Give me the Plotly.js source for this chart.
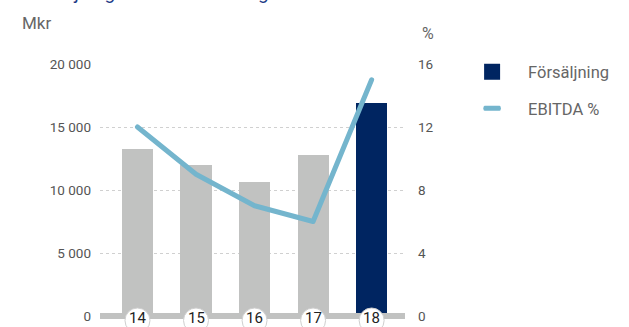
<!DOCTYPE html>
<html><head><meta charset="utf-8">
<script src="https://cdn.plot.ly/plotly-3.0.1.min.js"></script>
<style>
html,body{margin:0;padding:0;background:#fff}
.scatterlayer path.js-line{stroke-linecap:round;stroke-linejoin:round}
.legend .legendlines path{stroke-linecap:round;transform:translateX(20px) scaleX(0.5) translateX(-20px)}
.legend text.legendtext{transform:translateX(16px)}
.legend g.scrollbox{clip-path:none !important}
</style></head>
<body>
<div id="chart" style="width:629px;height:327px"></div>
<script>
const years = ['14', '15', '16', '17', '18'];
const sales = [13250, 12000, 10650, 12800, 16900];
const ebitdaPct = [12, 9, 7, 6, 15];
const leftTickVals = [0, 5000, 10000, 15000, 20000];
const leftTickText = ['0', '5 000', '10 000', '15 000', '20 000'];
const rightTickVals = [0, 4, 8, 12, 16];
const seriesNames = ['Försäljning', 'EBITDA %'];
const titleText = 'Försäljning och EBITDA-marginal';

const grey = '#c1c2c1', navy = '#002561', teal = '#74b5cd';
const xRange = [-0.64, 4.57];
const yRange = [-873, 20000];
const y2Range = [yRange[0] / 20000 * 16, 16];
const font = 'Roboto, "Noto Sans", sans-serif';

const barColors = years.map((y, i) => i === years.length - 1 ? navy : grey);

const traces = [
  {type: 'bar', x: years, y: sales, marker: {color: barColors}, width: 0.53,
   showlegend: false, hoverinfo: 'skip'},
  {type: 'scatter', mode: 'markers', x: [null], y: [null], name: seriesNames[0],
   marker: {symbol: 'square', size: 20, color: navy}, legendgroup: 'a'},
  {type: 'scatter', mode: 'lines', x: years, y: ebitdaPct, yaxis: 'y2', name: seriesNames[1],
   line: {color: teal, width: 5}, legendgroup: 'b', hoverinfo: 'skip'}
];

const shapes = [{type: 'line', xref: 'x', yref: 'y', x0: xRange[0], x1: xRange[1], y0: 0, y1: 0,
  line: {color: grey, width: 6}, layer: 'above'}];
const annotations = [];
years.forEach((y, i) => {
  shapes.push({type: 'circle', xref: 'x', yref: 'y', xsizemode: 'pixel', ysizemode: 'pixel',
    xanchor: i, yanchor: 0, x0: -12.5, x1: 12.5, y0: -17, y1: 8,
    fillcolor: '#fff', line: {color: '#cfcfcf', width: 1}, layer: 'above'});
  annotations.push({x: i, y: 0, xref: 'x', yref: 'y', yshift: -1.5, text: y, showarrow: false,
    font: {family: font, size: 15, color: '#222'}});
});
annotations.push({xref: 'paper', yref: 'paper', x: -80/305, y: 1, yshift: 41, xanchor: 'left', yanchor: 'middle',
  text: 'Mkr', showarrow: false, font: {family: font, size: 17, color: '#666'}});
annotations.push({xref: 'paper', yref: 'paper', x: 1.05, y: 1, yshift: 31, xanchor: 'left', yanchor: 'middle',
  text: '%', showarrow: false, font: {family: font, size: 16, color: '#666'}});
annotations.push({xref: 'paper', yref: 'paper', x: -80/305, y: 1, yshift: 58, xanchor: 'left', yanchor: 'bottom',
  text: titleText, showarrow: false, font: {family: font, size: 19, color: '#1d3b87'}});

const layout = {
  width: 629, height: 327,
  margin: {l: 100, r: 224, t: 64, b: 0},
  paper_bgcolor: '#fff', plot_bgcolor: '#fff',
  bargap: 0,
  xaxis: {type: 'category', range: xRange, showticklabels: false, showgrid: false, zeroline: false,
    showline: false, ticks: ''},
  yaxis: {range: yRange, tickvals: leftTickVals, ticktext: leftTickText, showgrid: true,
    gridcolor: '#d0d0d0', griddash: 'dot', gridwidth: 1, zeroline: false, showline: false, ticks: '',
    ticklabelstandoff: 8, tickfont: {family: font, size: 13.5, color: '#555'}},
  yaxis2: {range: y2Range, tickvals: rightTickVals, overlaying: 'y', side: 'right', showgrid: false,
    zeroline: false, showline: false, ticks: '', ticklabelstandoff: 12,
    tickfont: {family: font, size: 13.5, color: '#555'}},
  legend: {x: 1.22, y: 1.036, xanchor: 'left', yanchor: 'top', traceorder: 'grouped',
    itemwidth: 30, tracegroupgap: 12, font: {family: font, size: 16.5, color: '#666'}, bgcolor: 'rgba(0,0,0,0)'},
  shapes: shapes,
  annotations: annotations,
  showlegend: true
};

Plotly.newPlot('chart', traces, layout, {displayModeBar: false, staticPlot: true});
</script>
</body></html>
